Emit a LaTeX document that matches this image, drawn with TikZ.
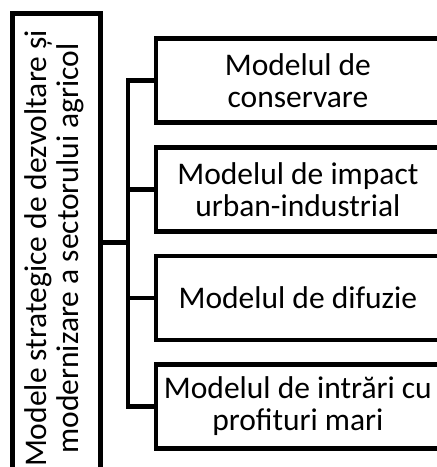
\documentclass[tikz,border=0pt]{standalone}
\usepackage{fontspec}
\setmainfont{Carlito}
\begin{document}
\begin{tikzpicture}[x=1pt,y=-1pt,
  boxstyle/.style={draw=black, line width=4.6pt, rectangle, inner sep=0pt, align=center,
    font=\fontsize{31.5}{32}\selectfont},
  rightbox/.style={boxstyle, minimum width=284.2pt, minimum height=84pt},
  conn/.style={draw=black, line width=4.6pt, line join=miter}]
\useasboundingbox (0,0) rectangle (437,467);
\clip (0,0) rectangle (437,467);
\node[boxstyle, minimum width=88.3pt, minimum height=470pt] (root) at (56.6,248.5)
  {\rotatebox{90}{\begin{tabular}{@{}c@{}}Modele strategice de dezvoltare și\\ modernizare a sectorului agricol\end{tabular}}};
\node[rightbox] (b1) at (297.9,80.5) {Modelul de\\ conservare};
\node[rightbox] (b2) at (297.9,189.2) {Modelul de impact\\ urban-industrial};
\node[rightbox] (b3) at (297.9,297.8) {Modelul de difuzie};
\node[rightbox] (b4) at (297.9,406.5) {Modelul de intrări cu\\ profituri mari};
\coordinate (j) at (128,242.5);
\draw[conn] (b1.west) -- (b1.west -| j) -- (b4.west -| j) -- (b4.west);
\draw[conn] (b2.west) -- (b2.west -| j);
\draw[conn] (b3.west) -- (b3.west -| j);
\draw[conn] (root.east |- j) -- (j);
\end{tikzpicture}
\end{document}
